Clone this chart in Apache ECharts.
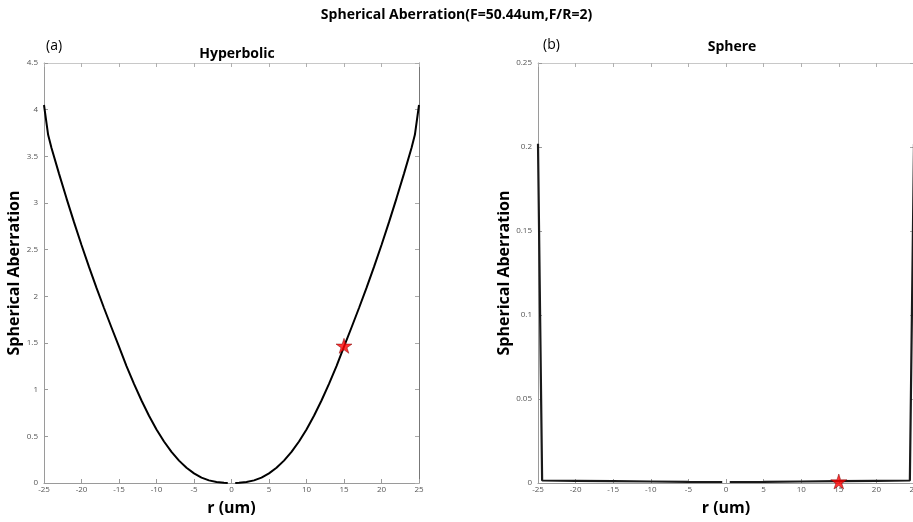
<!DOCTYPE html>
<html>
<head>
<meta charset="utf-8">
<script src="https://cdn.jsdelivr.net/npm/echarts@6/dist/echarts.min.js"></script>
<style>
html, body { margin: 0; padding: 0; background: #fff; }
#chart { width: 913px; height: 522px; }
</style>
</head>
<body>
<div id="chart"></div>
<script>
// r positions (um) and spherical aberration
var rHyper = [-25, -24.45, -24, -23, -22, -21, -20, -19, -18, -17, -16, -15, -14, -13, -12, -11, -10, -9, -8, -7, -6, -5, -4, -3, -2, -1, -0.5, 0,
	0.5, 1, 2, 3, 4, 5, 6, 7, 8, 9, 10, 11, 12, 13, 14, 15, 16, 17, 18, 19, 20, 21, 22, 23, 24, 24.45, 25];
var hyperSA = [4.05, 3.73, 3.59, 3.315, 3.05, 2.795, 2.55, 2.315, 2.09, 1.875, 1.666, 1.46, 1.253, 1.062, 0.884, 0.721, 0.574, 0.445, 0.334, 0.240, 0.163, 0.103, 0.058, 0.028, 0.010, 0.002, 0, null,
	0, 0.002, 0.010, 0.028, 0.058, 0.103, 0.163, 0.240, 0.334, 0.445, 0.574, 0.721, 0.884, 1.062, 1.253, 1.46, 1.666, 1.875, 2.09, 2.315, 2.55, 2.795, 3.05, 3.315, 3.59, 3.73, 4.05];

var rSphere = [-25, -24.45, -20, -15, -10, -5, -0.5, 0, 0.5, 5, 10, 15, 20, 24.45, 25];
var sphereSA = [0.202, 0.0015, 0.0013, 0.0011, 0.0009, 0.0007, 0.0006, null, 0.0006, 0.0007, 0.0009, 0.0011, 0.0013, 0.0015, 0.202];

var starR = 15;
var starHyper = 1.47;
var starSphere = 0.0009;

var xTicks = [-25, 25, 5];      // min, max, interval
var yHyper = [0, 4.5, 0.5];
var ySphere = [0, 0.25, 0.05];

var font = '"Open Sans", "Noto Sans", sans-serif';
var starPath = 'path://M50,0 L61,35 L98,35 L68,57 L79,91 L50,70 L21,91 L32,57 L2,35 L39,35 Z';

function pairs(xs, ys) {
	var out = [];
	for (var i = 0; i < xs.length; i++) {
		out.push([xs[i], ys[i]]);
	}
	return out;
}

function bottomAxis(grid) {
	return {
		type: 'value', gridIndex: grid,
		min: xTicks[0], max: xTicks[1], interval: xTicks[2],
		name: 'r (um)', nameLocation: 'middle', nameGap: 17,
		nameTextStyle: { fontFamily: font, fontWeight: 'bold', fontSize: 16, color: '#000' },
		axisLine: { show: true, onZero: false, lineStyle: { color: '#9a9a9a', width: 1 } },
		axisTick: { show: true, inside: true, length: 4, lineStyle: { color: '#9a9a9a' } },
		axisLabel: { fontFamily: font, fontSize: 8, color: '#555', margin: 3 },
		splitLine: { show: false }
	};
}

function topAxis(grid) {
	return {
		type: 'value', gridIndex: grid, position: 'top',
		min: xTicks[0], max: xTicks[1], interval: xTicks[2],
		axisLine: { show: true, onZero: false, lineStyle: { color: '#c8c8c8', width: 1 } },
		axisTick: { show: true, inside: true, length: 4, lineStyle: { color: '#b0b0b0' } },
		axisLabel: { show: false },
		splitLine: { show: false }
	};
}

function leftAxis(grid, t) {
	return {
		type: 'value', gridIndex: grid,
		min: t[0], max: t[1], interval: t[2],
		name: 'Spherical Aberration', nameLocation: 'middle', nameGap: 18,
		nameTextStyle: { fontFamily: font, fontWeight: 'bold', fontSize: 16, color: '#000' },
		axisLine: { show: true, onZero: false, lineStyle: { color: '#9a9a9a', width: 1 } },
		axisTick: { show: true, inside: true, length: 4, lineStyle: { color: '#9a9a9a' } },
		axisLabel: { fontFamily: font, fontSize: 8, color: '#555', margin: 6 },
		splitLine: { show: false }
	};
}

function rightAxis(grid, t) {
	return {
		type: 'value', gridIndex: grid, position: 'right',
		min: t[0], max: t[1], interval: t[2],
		axisLine: { show: true, onZero: false, lineStyle: { color: '#777', width: 1 } },
		axisTick: { show: true, inside: true, length: 4, lineStyle: { color: '#aaa' } },
		axisLabel: { show: false },
		splitLine: { show: false }
	};
}

var option = {
	animation: false,
	backgroundColor: '#fff',
	title: [
		{ text: 'Spherical Aberration(F=50.44um,F/R=2)', left: 'center', top: 3,
			textStyle: { fontFamily: font, fontWeight: 'bold', fontSize: 14, color: '#000' } },
		{ text: '(a)', left: 41, top: 34, textStyle: { fontFamily: font, fontWeight: 'normal', fontSize: 14, color: '#000' } },
		{ text: '(b)', left: 538, top: 33, textStyle: { fontFamily: font, fontWeight: 'normal', fontSize: 14, color: '#000' } },
		{ text: 'Hyperbolic', left: 232, top: 42, textAlign: 'center',
			textStyle: { fontFamily: font, fontWeight: 'bold', fontSize: 14, color: '#000' } },
		{ text: 'Sphere', left: 727, top: 35, textAlign: 'center',
			textStyle: { fontFamily: font, fontWeight: 'bold', fontSize: 14, color: '#000' } }
	],
	grid: [
		{ left: 44, right: 494, top: 63, bottom: 39, containLabel: false, outerBoundsMode: 'none' },
		{ left: 538, right: -1, top: 63, bottom: 39, containLabel: false, outerBoundsMode: 'none' }
	],
	xAxis: [bottomAxis(0), topAxis(0), bottomAxis(1), topAxis(1)],
	yAxis: [leftAxis(0, yHyper), rightAxis(0, yHyper), leftAxis(1, ySphere), rightAxis(1, ySphere)],
	series: [
		{
			name: 'Hyperbolic', type: 'line', xAxisIndex: 0, yAxisIndex: 0,
			data: pairs(rHyper, hyperSA), showSymbol: false, connectNulls: false,
			lineStyle: { color: '#000', width: 2 }, z: 2
		},
		{
			name: 'Sphere', type: 'line', xAxisIndex: 2, yAxisIndex: 2,
			data: pairs(rSphere, sphereSA), showSymbol: false, connectNulls: false,
			lineStyle: { color: '#1a1a1a', width: 2.2 }, z: 2
		},
		{
			type: 'scatter', xAxisIndex: 0, yAxisIndex: 0,
			data: [[starR, starHyper]], symbol: starPath, symbolSize: [16, 15],
			itemStyle: { color: '#ff0000', borderColor: '#7a0000', borderWidth: 0.6 }, z: 5
		},
		{
			type: 'scatter', xAxisIndex: 2, yAxisIndex: 2,
			data: [[starR, starSphere]], symbol: starPath, symbolSize: [16, 15],
			itemStyle: { color: '#ff0000', borderColor: '#7a0000', borderWidth: 0.6 }, z: 5
		}
	]
};

var chart = echarts.init(document.getElementById('chart'), null, { renderer: 'canvas' });
chart.setOption(option);
</script>
</body>
</html>
